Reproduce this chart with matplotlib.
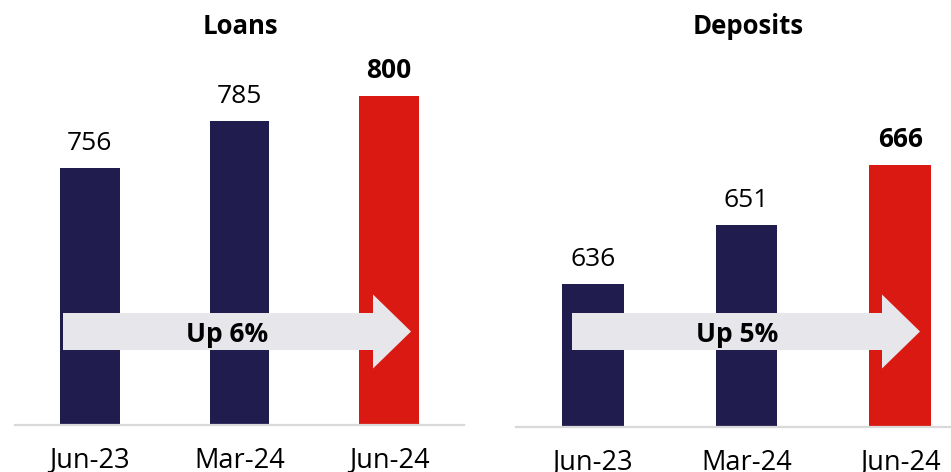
import matplotlib
matplotlib.use("Agg")
import matplotlib.pyplot as plt
from matplotlib.patches import FancyArrow

categories = ["Jun-23", "Mar-24", "Jun-24"]
loans = [756, 785, 800]
deposits = [636, 651, 666]
titles = ["Loans", "Deposits"]
growth_labels = ["Up 6%", "Up 5%"]

NAVY = "#211C4E"
RED = "#DA1A12"
ARROW = "#E7E6EB"
AXIS = "#D9D9D9"

plt.rcParams["font.family"] = ["Open Sans", "DejaVu Sans"]

W, H = 951, 472
fig = plt.figure(figsize=(W / 100, H / 100), dpi=100)


def px_axes(left, right, top, bottom):
    return fig.add_axes([left / W, 1 - bottom / H, (right - left) / W, (bottom - top) / H])


panels = [
    dict(vals=loans, box=(15, 464, 49, 425), ylim=(599, 829),
         arrow=(63, 373, 411, 331.5), text=(227, 341.7), title_x=240),
    dict(vals=deposits, box=(516, 977, 70, 427), ylim=(600, 690),
         arrow=(572, 882, 920, 331.5), text=(737, 341.7), title_x=748),
]

for p, title, glabel in zip(panels, titles, growth_labels):
    l, r, t, b = p["box"]
    ax = px_axes(l, r, t, b)
    wpx, hpx = r - l, b - t
    x = list(range(len(categories)))
    colors = [NAVY] * (len(categories) - 1) + [RED]
    ax.bar(x, p["vals"], width=0.4, color=colors, zorder=2)
    ax.set_xlim(-0.5, len(categories) - 0.5)
    ax.set_ylim(*p["ylim"])
    for i, v in enumerate(p["vals"]):
        last = i == len(categories) - 1
        ax.annotate(f"{v}", xy=(i, v), xytext=(0, 13), textcoords="offset points",
                    ha="center", va="baseline", fontsize=19,
                    fontweight="bold" if last else "normal", color="black")
    for s in ["top", "right", "left"]:
        ax.spines[s].set_visible(False)
    ax.spines["bottom"].set_color(AXIS)
    ax.spines["bottom"].set_linewidth(1.6)
    ax.set_yticks([])
    ax.set_xticks(x)
    ax.set_xticklabels(categories, fontsize=19.5)
    ax.tick_params(axis="x", length=0, pad=15.5)

    # growth arrow (axes fraction coordinates)
    x0, xh, xt, yc = p["arrow"]
    ax.add_patch(FancyArrow((x0 - l) / wpx, (b - yc) / hpx, (xt - x0) / wpx, 0,
                            width=37 / hpx, head_width=74 / hpx,
                            head_length=(xt - xh) / wpx, length_includes_head=True,
                            transform=ax.transAxes, color=ARROW, lw=0, zorder=3))
    tx, ty = p["text"]
    ax.text((tx - l) / wpx, (b - ty) / hpx, glabel, transform=ax.transAxes,
            ha="center", va="baseline", fontsize=19, fontweight="bold", zorder=4)

    fig.text(p["title_x"] / W, 1 - 26 / H, title, ha="center",
             va="center", fontsize=18.5, fontweight="bold")

fig.savefig("out.png", dpi=100)
